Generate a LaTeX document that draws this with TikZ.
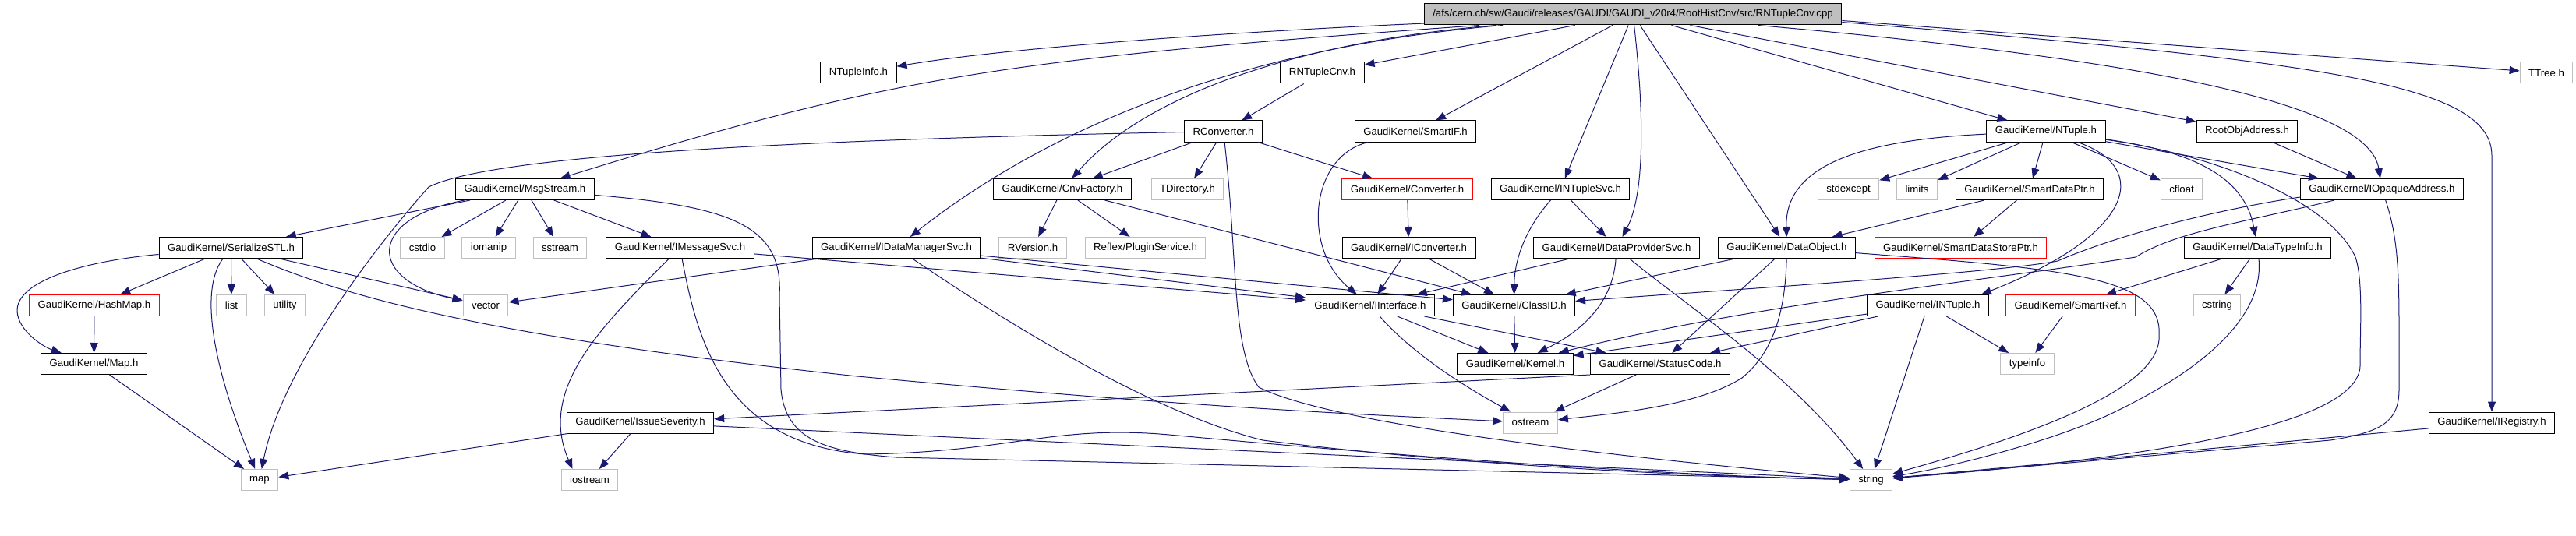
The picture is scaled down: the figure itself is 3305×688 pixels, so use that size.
\documentclass[tikz,border=0pt]{standalone}
\usepackage{fontspec}
\setmainfont{Liberation Sans}
\usetikzlibrary{arrows.meta}
\definecolor{EdgeBlue}{HTML}{191970}
\definecolor{NodeGray}{HTML}{BFBFBF}
\definecolor{MissingRed}{HTML}{FF0000}

\tikzset{
  hdr/.style={draw=black, line width=1bp, minimum height=27bp, inner xsep=11bp, inner ysep=0pt,
    font=\fontsize{13.2bp}{16bp}\selectfont},
  syshdr/.style={hdr, draw=NodeGray},
  nodoc/.style={hdr, draw=MissingRed},
  srcfile/.style={hdr, fill=NodeGray},
  dep/.style={draw=EdgeBlue, line width=1bp, -{Triangle[length=13bp,width=10bp]}},
}

\begin{document}
\begin{tikzpicture}[x=1bp, y=-1bp]
  \useasboundingbox (0,0) rectangle (3305,688);

  % Source file
  \node[srcfile] (src) at (2095,18.5) {/afs/cern.ch/sw/Gaudi/releases/GAUDI/GAUDI\_v20r4/RootHistCnv/src/RNTupleCnv.cpp};

  % Row 1
  \node[hdr] (ntupleinfo) at (1101.5,93.5) {NTupleInfo.h};
  \node[hdr] (rntuplecnv) at (1696.5,93.5) {RNTupleCnv.h};
  \node[syshdr] (ttree) at (3267,93.5) {TTree.h};

  % Row 2
  \node[hdr] (rconverter) at (1569.5,168.5) {RConverter.h};
  \node[hdr] (smartif) at (1816,168.5) {GaudiKernel/SmartIF.h};
  \node[hdr] (ntuple) at (2625,168.5) {GaudiKernel/NTuple.h};
  \node[hdr] (rootobjaddress) at (2883,168.5) {RootObjAddress.h};

  % Row 3
  \node[hdr] (msgstream) at (673.5,243) {GaudiKernel/MsgStream.h};
  \node[hdr] (cnvfactory) at (1363,243) {GaudiKernel/CnvFactory.h};
  \node[syshdr] (tdirectory) at (1523.5,243) {TDirectory.h};
  \node[nodoc] (converter) at (1805.5,243) {GaudiKernel/Converter.h};
  \node[hdr] (intuplesvc) at (2002,243) {GaudiKernel/INTupleSvc.h};
  \node[syshdr] (stdexcept) at (2371.5,243) {stdexcept};
  \node[syshdr] (limits) at (2459.5,243) {limits};
  \node[hdr] (smartdataptr) at (2604,243) {GaudiKernel/SmartDataPtr.h};
  \node[syshdr] (cfloat) at (2799,243) {cfloat};
  \node[hdr] (iopaqueaddress) at (3056,243) {GaudiKernel/IOpaqueAddress.h};

  % Row 4
  \node[hdr] (serializestl) at (296.5,318) {GaudiKernel/SerializeSTL.h};
  \node[syshdr] (cstdio) at (542,318) {cstdio};
  \node[syshdr] (iomanip) at (627,318) {iomanip};
  \node[syshdr] (sstream) at (718.5,318) {sstream};
  \node[hdr] (imessagesvc) at (872.5,318) {GaudiKernel/IMessageSvc.h};
  \node[hdr] (idatamanagersvc) at (1150,318) {GaudiKernel/IDataManagerSvc.h};
  \node[syshdr] (rversion) at (1325,318) {RVersion.h};
  \node[syshdr] (pluginservice) at (1469.5,318) {Reflex/PluginService.h};
  \node[hdr] (iconverter) at (1807.5,318) {GaudiKernel/IConverter.h};
  \node[hdr] (idataprovidersvc) at (2074,318) {GaudiKernel/IDataProviderSvc.h};
  \node[hdr] (dataobject) at (2292.5,318) {GaudiKernel/DataObject.h};
  \node[nodoc] (smartdatastoreptr) at (2515.5,318) {GaudiKernel/SmartDataStorePtr.h};
  \node[hdr] (datatypeinfo) at (2896.5,318) {GaudiKernel/DataTypeInfo.h};

  % Row 5
  \node[nodoc] (hashmap) at (121,392) {GaudiKernel/HashMap.h};
  \node[syshdr] (list) at (297,392) {list};
  \node[syshdr] (utility) at (365.5,392) {utility};
  \node[syshdr] (vector) at (623,392) {vector};
  \node[hdr] (iinterface) at (1758,392) {GaudiKernel/IInterface.h};
  \node[hdr] (classid) at (1942.5,392) {GaudiKernel/ClassID.h};
  \node[hdr] (intuple) at (2473.5,392) {GaudiKernel/INTuple.h};
  \node[nodoc] (smartref) at (2656.5,392) {GaudiKernel/SmartRef.h};
  \node[syshdr] (cstring) at (2844.5,392) {cstring};

  % Row 6
  \node[hdr] (gkmap) at (120.5,467) {GaudiKernel/Map.h};
  \node[hdr] (kernel) at (1944,467) {GaudiKernel/Kernel.h};
  \node[hdr] (statuscode) at (2130,467) {GaudiKernel/StatusCode.h};
  \node[syshdr] (typeinfo) at (2601,467) {typeinfo};

  % Row 7
  \node[hdr] (issueseverity) at (821.5,542.5) {GaudiKernel/IssueSeverity.h};
  \node[syshdr] (ostream) at (1963.5,542.5) {ostream};
  \node[hdr] (iregistry) at (3197,542.5) {GaudiKernel/IRegistry.h};

  % Row 8
  \node[syshdr] (stdmap) at (333,616) {map};
  \node[syshdr] (iostream) at (756.5,616) {iostream};
  \node[syshdr] (string) at (2400.5,616) {string};

  % Includes of the source file
  \draw[dep] (src) .. controls (1600,40) and (1300,60) .. (ntupleinfo);
  \draw[dep] (src) .. controls (1300,75) and (1150,95) .. (msgstream);
  \draw[dep] (src) .. controls (1600,60) and (1350,160) .. (idatamanagersvc);
  \draw[dep] (src) .. controls (1700,50) and (1480,110) .. (cnvfactory);
  \draw[dep] (src) -- (rntuplecnv);
  \draw[dep] (src) -- (smartif);
  \draw[dep] (src) -- (intuplesvc);
  \draw[dep] (src) .. controls (2110,150) and (2110,250) .. (idataprovidersvc);
  \draw[dep] (src) -- (dataobject);
  \draw[dep] (src) -- (ntuple);
  \draw[dep] (src) -- (rootobjaddress);
  \draw[dep] (src) .. controls (2800,80) and (3040,140) .. (iopaqueaddress);
  \draw[dep] ([yshift=-8bp]src.east) -- (ttree);
  \draw[dep] ([yshift=-10bp]src.east) .. controls (3000,80) and (3197,110) .. (3197,200) -- (iregistry);

  % RNTupleCnv.h and RConverter.h
  \draw[dep] (rntuplecnv) -- (rconverter);
  \draw[dep] (rconverter) -- (cnvfactory);
  \draw[dep] (rconverter) -- (tdirectory);
  \draw[dep] (rconverter) -- (converter);
  \draw[dep] (rconverter) .. controls (1000,180) and (630,200) .. (550,240) .. controls (470,330) and (360,480) .. (stdmap);
  \draw[dep] (rconverter) .. controls (1588,330) and (1580,450) .. (1615,497) .. controls (1700,540) and (2000,580) .. (string);

  % Converters and services
  \draw[dep] (smartif) .. controls (1680,200) and (1670,320) .. (iinterface);
  \draw[dep] (cnvfactory) -- (rversion);
  \draw[dep] (cnvfactory) -- (pluginservice);
  \draw[dep] (cnvfactory) -- (classid);
  \draw[dep] (converter) -- (iconverter);
  \draw[dep] (iconverter) -- (iinterface);
  \draw[dep] (iconverter) -- (classid);
  \draw[dep] (intuplesvc) -- (idataprovidersvc);
  \draw[dep] (intuplesvc) .. controls (1960,290) and (1943,330) .. (classid);
  \draw[dep] (idataprovidersvc) -- (iinterface);
  \draw[dep] (idataprovidersvc) .. controls (2070,380) and (2040,420) .. (kernel);
  \draw[dep] (idataprovidersvc) .. controls (2160,390) and (2300,480) .. (string);

  % NTuple.h
  \draw[dep] (ntuple) .. controls (2380,180) and (2290,215) .. (dataobject);
  \draw[dep] (ntuple) -- (stdexcept);
  \draw[dep] (ntuple) -- (limits);
  \draw[dep] (ntuple) -- (smartdataptr);
  \draw[dep] (ntuple) -- (cfloat);
  \draw[dep] (ntuple) .. controls (2760,215) and (2740,300) .. ([xshift=-10bp]intuple.north east);
  \draw[dep] (ntuple) .. controls (2820,195) and (2880,230) .. (datatypeinfo);
  \draw[dep] (ntuple) -- (iopaqueaddress);
  \draw[dep] (ntuple) .. controls (2850,200) and (2990,260) .. (3022,330) .. controls (3032,360) and (3028,420) .. (3028,470)
    .. controls (3025,540) and (2800,585) .. (string);

  % Addresses and data objects
  \draw[dep] (rootobjaddress) -- (iopaqueaddress);
  \draw[dep] (smartdataptr) -- (dataobject);
  \draw[dep] (smartdataptr) -- (smartdatastoreptr);
  \draw[dep] ([yshift=4bp]iopaqueaddress.south west) .. controls (2850,268) and (2720,300) .. (2640,335)
    .. controls (2560,350) and (2250,370) .. (classid);
  \draw[dep] ([xshift=44bp]iopaqueaddress.south west) .. controls (2880,285) and (2790,298) .. (2740,330)
    .. controls (2550,360) and (2250,390) .. (kernel);
  \draw[dep] (iopaqueaddress) .. controls (3075,300) and (3078,340) .. (3078,420) -- (3078,500)
    .. controls (3078,545) and (3050,555) .. (2990,565) -- (string);
  \draw[dep] (dataobject) -- (classid);
  \draw[dep] (dataobject) -- (statuscode);
  \draw[dep] (dataobject) .. controls (2290,420) and (2265,460) .. (2235,485) .. controls (2180,520) and (2080,530) .. (ostream);
  \draw[dep] (dataobject) .. controls (2650,345) and (2775,355) .. (2770,430) .. controls (2775,500) and (2600,560) .. (string);
  \draw[dep] (datatypeinfo) -- (smartref);
  \draw[dep] (datatypeinfo) -- (cstring);
  \draw[dep] (datatypeinfo) .. controls (2905,400) and (2840,470) .. (2700,535) .. controls (2620,570) and (2500,600) .. (string);
  \draw[dep] (intuple) -- (kernel);
  \draw[dep] (intuple) -- (statuscode);
  \draw[dep] (intuple) -- (typeinfo);
  \draw[dep] (intuple) -- (string);
  \draw[dep] (smartref) -- (typeinfo);
  \draw[dep] (iregistry) -- (string);

  % MsgStream.h
  \draw[dep] (msgstream) -- (serializestl);
  \draw[dep] ([xshift=12bp]msgstream.south west) .. controls (470,280) and (470,360) .. (vector);
  \draw[dep] (msgstream) -- (cstdio);
  \draw[dep] (msgstream) -- (iomanip);
  \draw[dep] (msgstream) -- (sstream);
  \draw[dep] (msgstream) -- (imessagesvc);
  \draw[dep] (msgstream) .. controls (940,265) and (1005,290) .. (1000,380) -- (1002,500)
    .. controls (1008,565) and (1060,580) .. (1150,587) -- (string);

  % SerializeSTL.h
  \draw[dep] (serializestl) -- (hashmap);
  \draw[dep] (serializestl) .. controls (110,335) and (20,360) .. (22,400) .. controls (24,425) and (55,445) .. (gkmap);
  \draw[dep] (serializestl) -- (list);
  \draw[dep] (serializestl) -- (utility);
  \draw[dep] (serializestl) .. controls (250,380) and (285,500) .. (stdmap);
  \draw[dep] (serializestl) -- (vector);
  \draw[dep] (serializestl) .. controls (430,375) and (600,430) .. (1100,483) .. controls (1500,520) and (1700,530) .. (ostream);
  \draw[dep] (hashmap) -- (gkmap);
  \draw[dep] (gkmap) -- (stdmap);

  % Message and manager services
  \draw[dep] (imessagesvc) -- (iinterface);
  \draw[dep] (imessagesvc) .. controls (770,420) and (690,500) .. ([xshift=-22bp]iostream.north);
  \draw[dep] (imessagesvc) .. controls (895,440) and (930,570) .. (1110,583) .. controls (1300,580) and (1350,545) .. (1500,558)
    .. controls (1900,595) and (2200,612) .. (string);
  \draw[dep] (idatamanagersvc) -- (vector);
  \draw[dep] (idatamanagersvc) -- (iinterface);
  \draw[dep] (idatamanagersvc) -- (classid);
  \draw[dep] (idatamanagersvc) .. controls (1300,420) and (1480,530) .. (1620,565) .. controls (1900,600) and (2200,612) .. (string);

  % Kernel headers
  \draw[dep] (iinterface) -- (kernel);
  \draw[dep] (iinterface) -- (statuscode);
  \draw[dep] (iinterface) .. controls (1800,440) and (1850,480) .. (ostream);
  \draw[dep] (classid) -- (kernel);
  \draw[dep] (statuscode) -- (ostream);
  \draw[dep] (statuscode.south west) -- (issueseverity);
  \draw[dep] (issueseverity) -- (stdmap);
  \draw[dep] (issueseverity) -- (iostream);
  \draw[dep] (issueseverity) -- (string);
\end{tikzpicture}
\end{document}
